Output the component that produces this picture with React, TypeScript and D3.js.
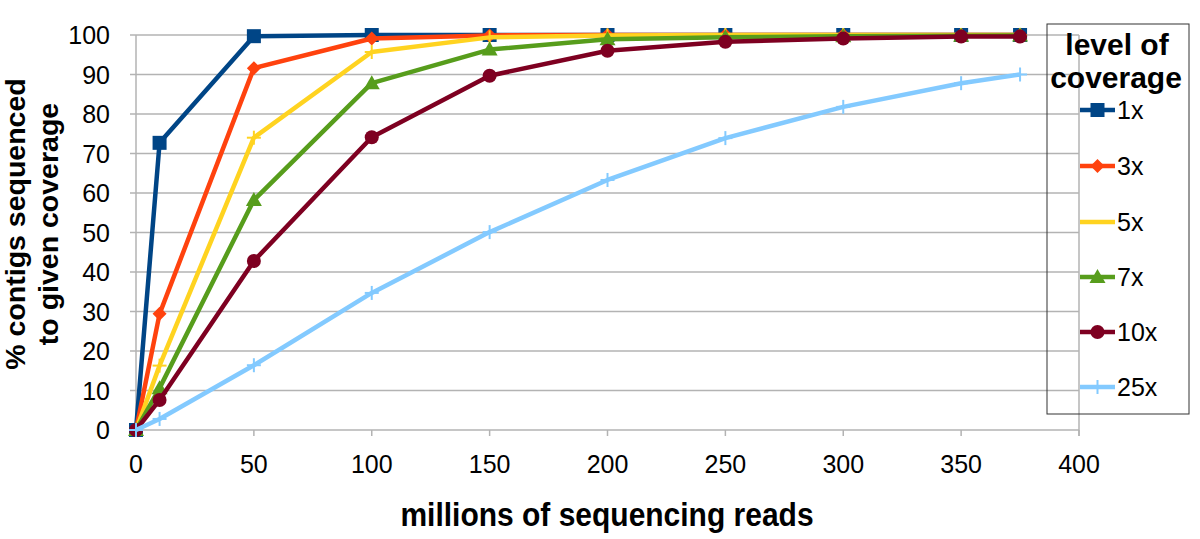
import React from "react";
import * as d3 from "d3";

const reads = [0, 10, 50, 100, 150, 200, 250, 300, 350, 375];
const cov1x = [0, 72.7, 99.7, 100, 100, 100, 100, 100, 100, 100];
const cov3x = [0, 29.4, 91.6, 99.1, 99.9, 100, 100, 100, 100, 100];
const cov5x = [0, 16.3, 74, 95.7, 99.4, 99.9, 100, 100, 100, 100];
const cov7x = [0, 10.6, 58.2, 87.8, 96.3, 98.9, 99.4, 99.7, 99.8, 99.9];
const cov10x = [0, 7.6, 42.8, 74.1, 89.7, 96.0, 98.3, 99.1, 99.6, 99.6];
const cov25x = [0, 2.8, 16.4, 34.7, 50.1, 63.3, 73.9, 81.8, 87.8, 90.0];
const seriesNames = ["1x", "3x", "5x", "7x", "10x", "25x"];
const colors = ["#004586", "#ff420e", "#ffd320", "#579d1c", "#7e0021", "#83caff"];
const markers = ["square", "diamond", "cross", "triangle", "circle", "plus"];
const xTicks = [0, 50, 100, 150, 200, 250, 300, 350, 400];
const yTicks = [0, 10, 20, 30, 40, 50, 60, 70, 80, 90, 100];

const allSeries = [cov1x, cov3x, cov5x, cov7x, cov10x, cov25x];

function Marker({ type, x, y, color }: { type: string; x: number; y: number; color: string }) {
  if (type === "square") return <rect x={x - 7} y={y - 7} width={14} height={14} fill={color} />;
  if (type === "diamond")
    return <path d={`M${x},${y - 7}L${x + 7},${y}L${x},${y + 7}L${x - 7},${y}Z`} fill={color} />;
  if (type === "triangle")
    return <path d={`M${x},${y - 8}L${x + 8},${y + 6}L${x - 8},${y + 6}Z`} fill={color} />;
  if (type === "circle") return <circle cx={x} cy={y} r={7} fill={color} />;
  if (type === "cross" || type === "plus")
    return (
      <g stroke={color} strokeWidth={2}>
        <line x1={x - 7} y1={y} x2={x + 7} y2={y} />
        <line x1={x} y1={y - 7} x2={x} y2={y + 7} />
      </g>
    );
  return null;
}

export default function App() {
  const W = 1200, H = 539;
  const x = d3.scaleLinear().domain([0, 400]).range([136, 1079]);
  const y = d3.scaleLinear().domain([0, 100]).range([430, 35]);
  const line = d3.line<number>().x((_, i) => x(reads[i])).y((d) => y(d));
  const font = "'Liberation Sans', Arial, sans-serif";
  const legendY = [110, 166, 222, 277, 332, 387];

  return (
    <svg width={W} height={H} style={{ position: "absolute", left: 0, top: 0, background: "#fff" }} fontFamily={font}>
      <rect width={W} height={H} fill="#fff" />
      {yTicks.map((t) => (
        <line key={"g" + t} x1={130} x2={x(400)} y1={y(t)} y2={y(t)} stroke="#b3b3b3" strokeWidth={1.5} />
      ))}
      <line x1={x(0)} x2={x(0)} y1={y(100)} y2={y(0)} stroke="#b3b3b3" strokeWidth={1.5} />
      <line x1={x(400)} x2={x(400)} y1={y(100)} y2={y(0) + 6} stroke="#b3b3b3" strokeWidth={1.5} />
      {xTicks.map((t) => (
        <line key={"xt" + t} x1={x(t)} x2={x(t)} y1={y(0)} y2={y(0) + 6} stroke="#b3b3b3" strokeWidth={1.5} />
      ))}
      {yTicks.map((t) => (
        <text key={"yl" + t} x={110} y={y(t)} dy="0.36em" textAnchor="end" fontSize={25} fill="#000">
          {t}
        </text>
      ))}
      {xTicks.map((t) => (
        <text key={"xl" + t} x={x(t)} y={473} textAnchor="middle" fontSize={25} fill="#000">
          {t}
        </text>
      ))}
      <g transform="translate(607,526) scale(1,1.1)">
        <text x={0} y={0} textAnchor="middle" fontSize={30} fontWeight="bold">
          millions of sequencing reads
        </text>
      </g>
      <g transform="translate(0,224) rotate(-90)">
        <text x={0} y={25} textAnchor="middle" fontSize={28.5} fontWeight="bold">
          % contigs sequenced
        </text>
        <text x={0} y={58} textAnchor="middle" fontSize={28.5} fontWeight="bold">
          to given coverage
        </text>
      </g>
      {allSeries.map((s, si) => (
        <g key={"s" + si}>
          <path d={line(s) || ""} fill="none" stroke={colors[si]} strokeWidth={4.5} strokeLinejoin="round" />
          {s.map((v, i) => (
            <Marker key={i} type={markers[si]} x={x(reads[i])} y={y(v)} color={colors[si]} />
          ))}
        </g>
      ))}
      <rect x={1047} y={24} width={142} height={390} fill="none" stroke="#333" strokeWidth={1} />
      <text x={1117} y={55} textAnchor="middle" fontSize={30} fontWeight="bold">level of</text>
      <text x={1116} y={88} textAnchor="middle" fontSize={30} fontWeight="bold">coverage</text>
      {seriesNames.map((n, i) => (
        <g key={"l" + i}>
          <line x1={1080} x2={1115} y1={legendY[i]} y2={legendY[i]} stroke={colors[i]} strokeWidth={4.5} />
          {markers[i] !== "cross" && <Marker type={markers[i]} x={1097.5} y={legendY[i]} color={colors[i]} />}
          <text x={1117} y={legendY[i]} dy="0.36em" fontSize={25}>{n}</text>
        </g>
      ))}
    </svg>
  );
}
